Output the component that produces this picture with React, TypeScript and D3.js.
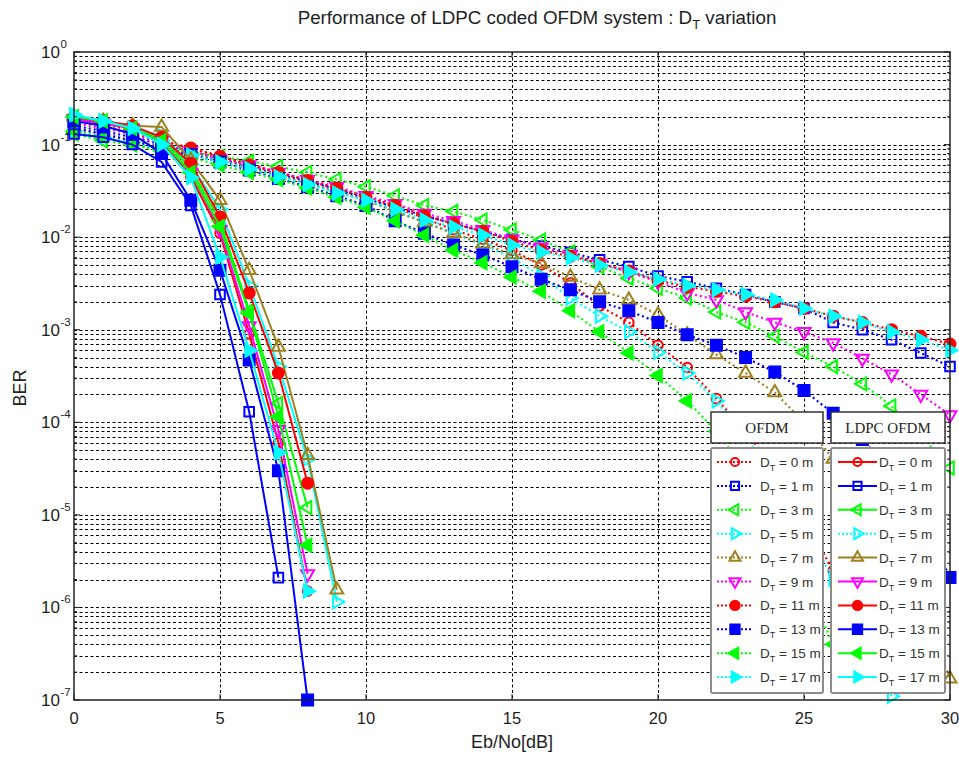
import React from 'react';
import * as d3 from 'd3';

// ---------- data ----------
const ebNo = [0,1,2,3,4,5,6,7,8,9,10,11,12,13,14,15,16,17,18,19,20,21,22,23,24,25,26,27,28,29,30];
const distances = [0, 1, 3, 5, 7, 9, 11, 13, 15, 17];
const colors = ['#ff0000','#0000ff','#00ff00','#00ffff','#a0801e','#ff00ff','#ff0000','#0000ff','#00ff00','#00ffff'];
const markerTypes = ['circle','square','left','right','up','down','circle','square','left','right'];
const markerFilled = [false,false,false,false,false,false,true,true,true,true];

// OFDM (uncoded), BER vs Eb/No 0..30 dB
const ofdm0 = [0.18,0.16,0.13,0.11,0.09,0.075,0.062,0.05,0.041,0.033,0.027,0.021,0.016,0.012,0.0095,0.0072,0.005,0.0032,0.0018,0.0012,6.8e-4,3.9e-4,1.8e-4,8e-5,3e-5,9e-6,2.5e-6,5e-7];
const ofdm1 = [0.16,0.14,0.12,0.1,0.085,0.07,0.058,0.048,0.04,0.033,0.026,0.021,0.017,0.014,0.0115,0.0095,0.008,0.0068,0.0057,0.0048,0.0038,0.0033,0.0028,0.0024,0.002,0.0017,0.0012,0.001,7.8e-4,5.6e-4,4e-4];
const ofdm3 = [0.13,0.11,0.1,0.09,0.082,0.075,0.066,0.058,0.05,0.042,0.035,0.028,0.022,0.019,0.0153,0.012,0.0093,0.0069,0.0048,0.0036,0.0028,0.0022,0.00155,0.0012,8.5e-4,5.7e-4,4e-4,2.6e-4,1.5e-4,7.2e-5,3.2e-5];
const ofdm5 = [0.14,0.12,0.105,0.09,0.077,0.065,0.055,0.046,0.038,0.031,0.025,0.019,0.0145,0.011,0.0082,0.006,0.0038,0.0022,0.0014,9.5e-4,5.7e-4,3.4e-4,1.7e-4,7e-5,2.5e-5,8e-6,2e-6,5e-7,1.1e-7];
const ofdm7 = [0.15,0.13,0.11,0.095,0.08,0.068,0.056,0.047,0.038,0.031,0.025,0.019,0.0145,0.011,0.0085,0.0065,0.0052,0.0037,0.0027,0.0021,0.00145,8.8e-4,5.4e-4,3.4e-4,2.1e-4,1e-4,4e-5,1.4e-5,4.5e-6,1e-6,1.7e-7];
const ofdm9 = [0.17,0.15,0.13,0.1,0.085,0.07,0.06,0.05,0.042,0.035,0.028,0.023,0.018,0.015,0.012,0.0095,0.0078,0.0065,0.0052,0.0042,0.0033,0.0025,0.0021,0.00155,0.0012,9.5e-4,7.2e-4,4.9e-4,3.3e-4,2e-4,1.2e-4];
const ofdm11 = [0.19,0.17,0.14,0.11,0.092,0.075,0.06,0.05,0.041,0.034,0.027,0.022,0.017,0.014,0.0115,0.009,0.0072,0.0062,0.0052,0.0043,0.0034,0.0029,0.0026,0.0023,0.002,0.0017,0.0014,0.0012,0.001,8.5e-4,7e-4];
const ofdm13 = [0.15,0.13,0.11,0.09,0.078,0.065,0.053,0.043,0.035,0.028,0.022,0.015,0.011,0.0082,0.0064,0.0048,0.0035,0.0027,0.002,0.0016,0.0012,8.8e-4,6.8e-4,5e-4,3.5e-4,2.2e-4,1.25e-4,6.5e-5,3e-5,1e-5,2.1e-6];
const ofdm15 = [0.14,0.12,0.1,0.085,0.072,0.06,0.05,0.042,0.034,0.027,0.021,0.015,0.0105,0.0072,0.0053,0.0037,0.0026,0.0016,9.5e-4,5.6e-4,3.2e-4,1.7e-4,8e-5,3e-5,9e-6,2e-6,4e-7];
const ofdm17 = [0.21,0.18,0.15,0.11,0.077,0.065,0.055,0.045,0.037,0.03,0.025,0.02,0.0153,0.0129,0.0105,0.0082,0.0069,0.006,0.005,0.0042,0.0035,0.003,0.0027,0.0024,0.0021,0.0017,0.0014,0.0012,9.5e-4,7.8e-4,6e-4];

// LDPC coded OFDM
const ldpc0 = [0.19,0.17,0.15,0.11,0.045,0.011,9e-4,6e-5,1.5e-6];
const ldpc1 = [0.13,0.12,0.1,0.065,0.022,0.0024,1.3e-4,2.1e-6];
const ldpc3 = [0.2,0.18,0.15,0.12,0.055,0.015,0.0016,1.6e-4,1.2e-5];
const ldpc5 = [0.2,0.18,0.15,0.125,0.06,0.02,0.003,4e-4,4e-5,1.15e-6];
const ldpc7 = [0.2,0.18,0.16,0.155,0.068,0.025,0.0044,6.5e-4,4.4e-5,1.55e-6];
const ldpc9 = [0.19,0.17,0.15,0.11,0.05,0.012,0.0011,8.3e-5,2.3e-6];
const ldpc11 = [0.2,0.18,0.16,0.12,0.063,0.0165,0.0025,3.4e-4,2.2e-5];
const ldpc13 = [0.18,0.16,0.13,0.08,0.025,0.0044,4.7e-4,3e-5,1e-7];
const ldpc15 = [0.2,0.18,0.15,0.11,0.05,0.013,0.0015,1.15e-4,4.7e-6];
const ldpc17 = [0.21,0.18,0.15,0.1,0.044,0.0061,6e-4,4.7e-5,1.5e-6];

const ofdmSeries = [ofdm0, ofdm1, ofdm3, ofdm5, ofdm7, ofdm9, ofdm11, ofdm13, ofdm15, ofdm17];
const ldpcSeries = [ldpc0, ldpc1, ldpc3, ldpc5, ldpc7, ldpc9, ldpc11, ldpc13, ldpc15, ldpc17];

const xTicks = [0, 5, 10, 15, 20, 25, 30];
const yExponents = [0, -1, -2, -3, -4, -5, -6, -7];

// ---------- layout ----------
const W = 959, H = 758;
const L = 74, R = 950, T = 52, B = 700;
const x = d3.scaleLinear().domain([0, 30]).range([L, R]);
const y = d3.scaleLog().domain([1e-7, 1]).range([B, T]);
const FONT = 'Arial, "Liberation Sans", Helvetica, sans-serif';
const TXT = '#1e1e1e';

function markerPath(type: string, r: number): string {
  const a = 0.866;
  switch (type) {
    case 'square': return `M${-r},${-r}H${r}V${r}H${-r}Z`;
    case 'up': return `M0,${-r}L${r * a},${r * 0.5}L${-r * a},${r * 0.5}Z`;
    case 'down': return `M0,${r}L${r * a},${-r * 0.5}L${-r * a},${-r * 0.5}Z`;
    case 'left': return `M${-r},0L${r * 0.5},${-r * a}L${r * 0.5},${r * a}Z`;
    case 'right': return `M${r},0L${-r * 0.5},${-r * a}L${-r * 0.5},${r * a}Z`;
    default: return '';
  }
}

function Marker({ type, filled, color, cx, cy, scale = 1 }: any) {
  if (type === 'circle') {
    return <circle cx={cx} cy={cy} r={(filled ? 5.5 : 4.8) * scale} fill={filled ? color : 'none'} stroke={color} strokeWidth={2} />;
  }
  const r = (type === 'square' ? (filled ? 5.5 : 4.8) : 7.5) * scale;
  return <path d={markerPath(type, r)} transform={`translate(${cx},${cy})`} fill={filled ? color : 'none'} stroke={color} strokeWidth={2} strokeLinejoin="miter" />;
}

function Series({ values, idx, dotted }: any) {
  const pts = values.map((v: number, i: number) => [ebNo[i], v] as [number, number]);
  const line = d3.line<[number, number]>().x(d => x(d[0])).y(d => y(d[1]));
  const color = colors[idx];
  return (
    <g>
      <path d={line(pts) || ''} fill="none" stroke={color} strokeWidth={dotted ? 2.2 : 2}
        strokeDasharray={dotted ? '2,3' : undefined} clipPath="url(#plotClip)" />
      {pts.filter(p => p[1] >= 1e-7 && p[1] <= 1).map((p, i) => (
        <Marker key={i} type={markerTypes[idx]} filled={markerFilled[idx]} color={color} cx={x(p[0])} cy={y(p[1])} />
      ))}
    </g>
  );
}

function Legend({ x0, x1, title, dotted, lineX1, lineX2, textX }: any) {
  const rowY = (i: number) => 462 + i * 23.9;
  return (
    <g>
      <rect x={x0} y={412} width={x1 - x0} height={31} fill="#fff" stroke="#333" strokeWidth={1.5} />
      <text x={(x0 + x1) / 2} y={433} textAnchor="middle" fontFamily='"Liberation Serif", "Times New Roman", serif' fontSize={15} fill={TXT}>{title}</text>
      <rect x={x0} y={448} width={x1 - x0} height={245} fill="#fff" stroke="#8c8c8c" strokeWidth={2} rx={2} />
      {distances.map((d, i) => {
        const yy = rowY(i);
        const isDotted = dotted || i === 3;
        return (
          <g key={i}>
            <line x1={lineX1} x2={lineX2} y1={yy} y2={yy} stroke={colors[i]} strokeWidth={2}
              strokeDasharray={isDotted ? '2,2' : undefined} />
            <Marker type={markerTypes[i]} filled={markerFilled[i]} color={colors[i]} cx={(lineX1 + lineX2) / 2} cy={yy} scale={0.85} />
            <text x={textX} y={yy + 5} fontFamily={FONT} fontSize={13.5} fill="#333">
              D<tspan fontSize={9} dy={4}>T</tspan><tspan dy={-4}>{` = ${d} m`}</tspan>
            </text>
          </g>
        );
      })}
    </g>
  );
}

export default function App() {
  const minorVals: number[] = [];
  for (let e = -7; e < 0; e++) {
    for (let k = 2; k <= 9; k++) minorVals.push(k * Math.pow(10, e));
  }
  const majorVals = yExponents.map(e => Math.pow(10, e));
  return (
    <svg width={W} height={H} style={{ position: 'absolute', left: 0, top: 0, background: '#fff' }}>
      <defs>
        <clipPath id="plotClip"><rect x={L} y={T} width={R - L} height={B - T} /></clipPath>
      </defs>
      <rect x={0} y={0} width={W} height={H} fill="#fff" />
      {/* grid */}
      <g stroke="#000" strokeWidth={1} strokeDasharray="3,2.5">
        {[...minorVals, ...majorVals.slice(1, -1)].map((v, i) => (
          <line key={'gy' + i} x1={L} x2={R} y1={Math.round(y(v)) + 0.5} y2={Math.round(y(v)) + 0.5} />
        ))}
        {xTicks.slice(1, -1).map((v, i) => (
          <line key={'gx' + i} x1={Math.round(x(v)) + 0.5} x2={Math.round(x(v)) + 0.5} y1={T} y2={B} />
        ))}
      </g>
      {/* series */}
      {ofdmSeries.map((s, i) => <Series key={'o' + i} values={s} idx={i} dotted={true} />)}
      {ldpcSeries.map((s, i) => <Series key={'l' + i} values={s} idx={i} dotted={false} />)}
      {/* axes box and ticks */}
      <rect x={L} y={T} width={R - L} height={B - T} fill="none" stroke="#222" strokeWidth={1.5} />
      <g stroke="#222" strokeWidth={1}>
        {xTicks.map((v, i) => (
          <g key={'xt' + i}>
            <line x1={x(v)} x2={x(v)} y1={B} y2={B - 6} />
            <line x1={x(v)} x2={x(v)} y1={T} y2={T + 6} />
          </g>
        ))}
        {majorVals.map((v, i) => (
          <g key={'yt' + i}>
            <line x1={L} x2={L + 6} y1={y(v)} y2={y(v)} />
            <line x1={R} x2={R - 6} y1={y(v)} y2={y(v)} />
          </g>
        ))}
        {minorVals.map((v, i) => (
          <g key={'ym' + i}>
            <line x1={L} x2={L + 3} y1={y(v)} y2={y(v)} />
            <line x1={R} x2={R - 3} y1={y(v)} y2={y(v)} />
          </g>
        ))}
      </g>
      {/* tick labels */}
      {xTicks.map((v, i) => (
        <text key={'xl' + i} x={x(v)} y={724} textAnchor="middle" fontFamily={FONT} fontSize={16.5} fill={TXT}>{v}</text>
      ))}
      {yExponents.map((e, i) => {
        const yy = y(Math.pow(10, e));
        return (
          <g key={'yl' + i}>
            <text x={60} y={yy + 6} textAnchor="end" fontFamily={FONT} fontSize={17} fill={TXT}>10</text>
            <text x={60.5} y={yy - 4} textAnchor="start" fontFamily={FONT} fontSize={11.5} fill={TXT}>{e}</text>
          </g>
        );
      })}
      {/* labels */}
      <text x={512} y={748} textAnchor="middle" fontFamily={FONT} fontSize={18} fill={TXT}>Eb/No[dB]</text>
      <text transform="translate(26,388) rotate(-90)" textAnchor="middle" fontFamily={FONT} fontSize={18} fill={TXT}>BER</text>
      <text x={537} y={24} textAnchor="middle" fontFamily={FONT} fontSize={18.8} fill={TXT}>
        Performance of LDPC coded OFDM system : D<tspan fontSize={13} dy={5}>T</tspan><tspan dy={-5}> variation</tspan>
      </text>
      {/* legends */}
      <Legend x0={711} x1={823} title="OFDM" dotted={true} lineX1={717} lineX2={753} textX={760} />
      <Legend x0={831} x1={945} title="LDPC OFDM" dotted={false} lineX1={838} lineX2={877} textX={879} />
    </svg>
  );
}
